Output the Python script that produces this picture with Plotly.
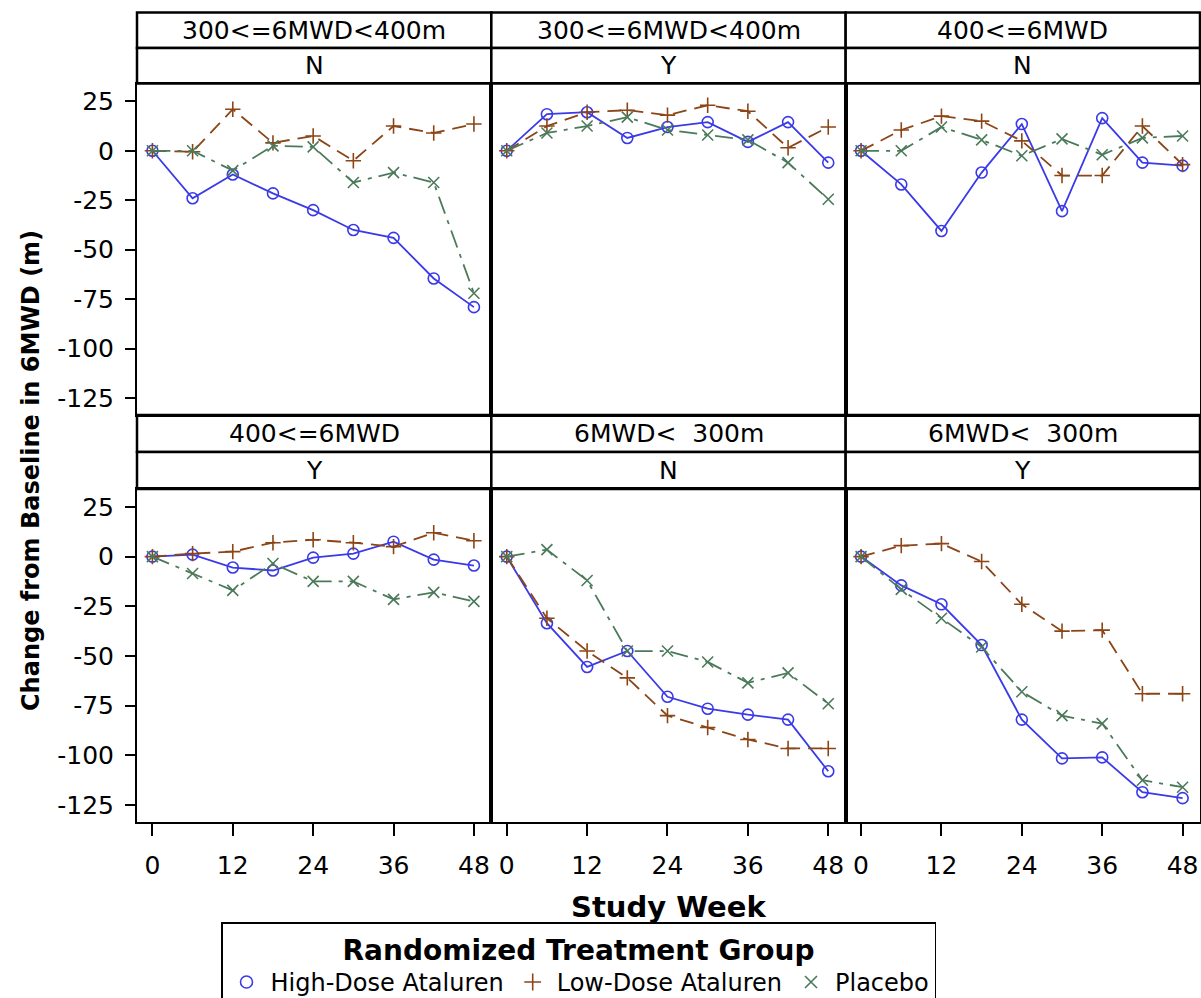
import plotly.graph_objects as go

# Study weeks at which 6MWD was assessed
weeks = [0, 6, 12, 18, 24, 30, 36, 42, 48]

# Panel labels: baseline 6MWD category (upper strip) and steroid use (lower strip)
baseline_cat = ["300<=6MWD<400m", "300<=6MWD<400m", "400<=6MWD",
                "400<=6MWD", "6MWD<\u00a0\u00a0300m", "6MWD<\u00a0\u00a0300m"]
steroid_use = ["N", "Y", "N", "Y", "N", "Y"]

# Mean change from baseline in 6MWD (m), one list per panel
high_dose = [
    [0, -24, -12, -21.5, -30, -40, -44, -64.5, -79],
    [0, 18.5, 19.5, 6.5, 12, 14.5, 4.5, 14.5, -6],
    [0, -17, -40.5, -11, 13.5, -30.5, 16.5, -6, -7.5],
    [0, 1, -5.5, -7, -0.5, 1.5, 7.5, -1.5, -4.5],
    [0, -33.5, -55.5, -47.5, -70.5, -76.5, -79.5, -82, -108],
    [0, -14.5, -24, -44.5, -82, -101.5, -101, -118.5, -121.5],
]
low_dose = [
    [0, -0.5, 21, 4, 7.5, -5, 12.5, 9, 13.5],
    [0, 12.5, 19.5, 20.5, 18, 23, 20, 1.5, 12],
    [0, 10.5, 17.5, 15, 5, -12.5, -12.5, 12.5, -7],
    [0, 1.5, 2.5, 7, 8.5, 7, 5, 12, 8],
    [0, -31, -47.5, -61, -80, -86, -92, -96.5, -96.5],
    [0, 5.5, 6.5, -2.5, -24, -37.5, -37, -69, -69],
]
placebo = [
    [0, 0, -10, 2.5, 2, -16, -11, -16, -72],
    [0, 9, 12.5, 17, 10.5, 8, 5.5, -6, -24.5],
    [0, 0, 12, 5.5, -2.5, 6, -2, 6.5, 7.5],
    [0, -8.5, -17, -3.5, -12.5, -12.5, -21.5, -18, -22.5],
    [0, 3.5, -12, -47.5, -47.5, -53, -63.5, -58.5, -74],
    [0, -16.5, -31, -45.5, -68, -80, -84, -112.5, -116],
]

x_ticks = [0, 12, 24, 36, 48]
y_ticks = [25, 0, -25, -50, -75, -100, -125]
y_tick_text = [str(v) for v in y_ticks]

groups = [
    ("High-Dose Ataluren", high_dose, "#3a3ae8", "circle-open", "solid"),
    ("Low-Dose Ataluren", low_dose, "#8b4516", "cross-thin-open", "14px,8px"),
    ("Placebo", placebo, "#4b7a5a", "x-thin-open", "18px,7px,4px,7px"),
]

FONT = "DejaVu Sans"
W, H = 1201, 998
ML, MR, MT, MB = 137, 1, 12, 176
plot_h = H - MT - MB  # 810

def py(pix):
    """Convert a page pixel row into paper y."""
    return (H - MB - pix) / plot_h

# Vertical layout of each row: strip 1, strip 2, panel
rows = [
    dict(s1=(12.5, 48), s2=(48, 83.5), panel=(83.5, 415)),
    dict(s1=(415, 452), s2=(452, 489), panel=(489, 822)),
]
col_edges = [0, 1 / 3, 2 / 3, 1]

fig = go.Figure()
shapes, annotations = [], []

for i in range(6):
    r, c = divmod(i, 3)
    ax = "" if i == 0 else str(i + 1)
    xd = [col_edges[c], col_edges[c + 1]]
    rp = rows[r]
    yd = [py(rp["panel"][1]), py(rp["panel"][0])]

    for name, vals, color, sym, dash in groups:
        fig.add_trace(go.Scatter(
            x=weeks, y=vals[i], mode="lines+markers", name=name,
            line=dict(color=color, width=1.8, dash=dash),
            marker=dict(symbol=sym, size=11, color=color,
                        line=dict(color=color, width=1.6)),
            xaxis="x" + ax, yaxis="y" + ax, showlegend=False,
        ))

    fig.layout["xaxis" + ax] = dict(
        domain=xd, range=[-2.3, 50.6], anchor="y" + ax,
        tickvals=x_ticks, showticklabels=(r == 1),
        ticks="outside" if r == 1 else "", ticklen=12, tickwidth=2,
        tickcolor="black", showline=True, linecolor="black", linewidth=2,
        mirror=True, showgrid=False, zeroline=False,
        tickfont=dict(family=FONT, size=25, color="black"),
        ticklabelstandoff=8,
    )
    fig.layout["yaxis" + ax] = dict(
        domain=yd, range=[-133.5, 34], anchor="x" + ax,
        tickvals=y_ticks, ticktext=y_tick_text, showticklabels=(c == 0),
        ticks="outside" if c == 0 else "", ticklen=10, tickwidth=2,
        tickcolor="black", showline=True, linecolor="black", linewidth=2,
        mirror=True, showgrid=False, zeroline=False,
        tickfont=dict(family=FONT, size=25, color="black"),
        ticklabelstandoff=6,
    )

    # Strip headers above each panel
    for key, label in (("s1", baseline_cat[i]), ("s2", steroid_use[i])):
        y0, y1 = py(rp[key][1]), py(rp[key][0])
        shapes.append(dict(type="rect", xref="paper", yref="paper",
                           x0=xd[0], x1=xd[1], y0=y0, y1=y1,
                           line=dict(color="black", width=2.5),
                           fillcolor="white", layer="below"))
        annotations.append(dict(xref="paper", yref="paper",
                                x=(xd[0] + xd[1]) / 2, y=(y0 + y1) / 2,
                                text=label, showarrow=False,
                                xanchor="center", yanchor="middle",
                                font=dict(family=FONT, size=25, color="black")))

# Legend entries (marker only)
for name, vals, color, sym, dash in groups:
    fig.add_trace(go.Scatter(
        x=[None], y=[None], mode="markers", name=name,
        marker=dict(symbol=sym, size=12, color=color,
                    line=dict(color=color, width=1.6)),
        showlegend=True,
    ))

annotations.append(dict(xref="paper", yref="paper", x=0.5, y=py(907),
                        text="<b>Study Week</b>", showarrow=False,
                        xanchor="center", yanchor="middle",
                        font=dict(family=FONT, size=29, color="black")))
annotations.append(dict(xref="paper", yref="paper",
                        x=(31 - ML) / (W - ML - MR), y=py(471),
                        text="<b>Change from Baseline in 6MWD (m)</b>",
                        textangle=-90, showarrow=False,
                        xanchor="center", yanchor="middle",
                        font=dict(family=FONT, size=24, color="black")))

fig.update_layout(
    width=W, height=H,
    margin=dict(l=ML, r=MR, t=MT, b=MB, autoexpand=False),
    paper_bgcolor="white", plot_bgcolor="white",
    shapes=shapes, annotations=annotations,
    legend=dict(
        orientation="h", xref="container", yref="container",
        x=578.5 / W, xanchor="center",
        y=(H - 922) / H, yanchor="top",
        bordercolor="black", borderwidth=1.5, bgcolor="white",
        font=dict(family=FONT, size=24, color="black"),
        title=dict(text="<b>Randomized Treatment Group</b>", side="top center",
                   font=dict(family=FONT, size=28, color="black")),
        itemwidth=38, tracegroupgap=0,
    ),
)

fig.write_html("out.html")
